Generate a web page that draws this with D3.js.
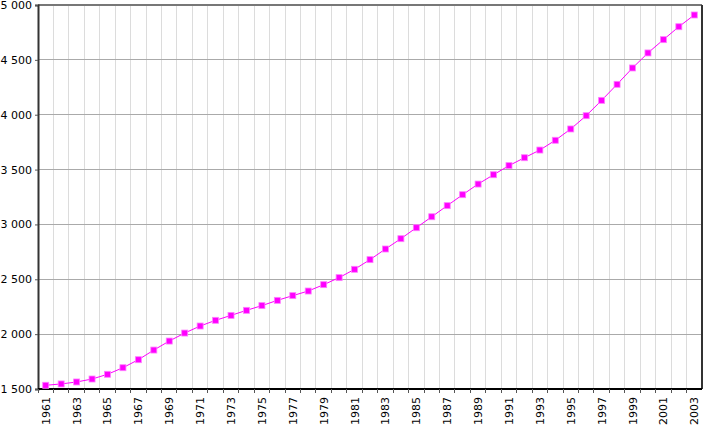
<!DOCTYPE html>
<html>
<head>
<meta charset="utf-8">
<script src="https://cdn.jsdelivr.net/npm/d3@7"></script>
<style>
  body { margin: 0; background: #fff; }
  text { font-family: "DejaVu Sans", Verdana, sans-serif; font-size: 11px; fill: #000; }
</style>
</head>
<body>
<svg id="chart" width="725" height="426"></svg>
<script>
'use strict'

const years = d3.range(1961, 2004)
const population = [
  1534, 1546, 1564, 1591, 1634, 1694, 1767, 1855, 1937, 2010,
  2074, 2126, 2171, 2217, 2260, 2308, 2351, 2393, 2451, 2515,
  2591, 2679, 2776, 2870, 2970, 3070, 3171, 3271, 3368, 3453,
  3536, 3608, 3678, 3767, 3870, 3991, 4131, 4277, 4426, 4563,
  4684, 4802, 4909
]
const yTicks = [1500, 2000, 2500, 3000, 3500, 4000, 4500, 5000]

const margin = { top: 5, right: 23, bottom: 37, left: 38 }
const width = 725 - margin.left - margin.right
const height = 426 - margin.top - margin.bottom

const svg = d3.select('#chart')
const g = svg.append('g').attr('transform', `translate(${margin.left},${margin.top})`)

const x = d3.scaleBand().domain(years).range([0, width])
const y = d3.scaleLinear().domain([1500, 5000]).range([height, 0])
const fmt = v => d3.format(',')(v).replace(',', ' ')

// vertical grid at band edges
g.append('g')
  .selectAll('line')
  .data(years.slice(1))
  .enter()
  .append('line')
  .attr('x1', d => x(d)).attr('x2', d => x(d))
  .attr('y1', 0).attr('y2', height)
  .attr('stroke', '#dcdcdc')
  .attr('shape-rendering', 'crispEdges')

// horizontal grid
g.append('g')
  .selectAll('line')
  .data(yTicks.slice(1, -1))
  .enter()
  .append('line')
  .attr('x1', 0).attr('x2', width)
  .attr('y1', d => y(d)).attr('y2', d => y(d))
  .attr('stroke', '#aaaaaa')
  .attr('shape-rendering', 'crispEdges')

// top and right frame
g.append('line')
  .attr('x1', 0).attr('x2', width).attr('y1', 0).attr('y2', 0)
  .attr('stroke', '#777').attr('stroke-width', 2)
g.append('line')
  .attr('x1', width).attr('x2', width).attr('y1', 0).attr('y2', height)
  .attr('stroke', '#333').attr('stroke-width', 2)

// y axis
const yAxis = g.append('g')
  .call(d3.axisLeft(y).tickValues(yTicks).tickFormat(fmt).tickSize(3).tickPadding(3))
yAxis.select('.domain').attr('stroke', '#333').attr('stroke-width', 2)
yAxis.selectAll('.tick line').attr('stroke', '#555')
yAxis.selectAll('text').style('font-size', '11px')

// x axis: ticks at band edges, labels every second year
const xAxis = g.append('g').attr('transform', `translate(0,${height})`)
xAxis.append('line')
  .attr('x1', 0).attr('x2', width)
  .attr('stroke', '#000').attr('stroke-width', 2)
xAxis.selectAll('line.tick')
  .data(years)
  .enter()
  .append('line')
  .attr('class', 'tick')
  .attr('x1', d => x(d)).attr('x2', d => x(d))
  .attr('y1', 0).attr('y2', 4)
  .attr('stroke', '#555')
  .attr('shape-rendering', 'crispEdges')
xAxis.selectAll('text')
  .data(years.filter((d, i) => i % 2 === 0))
  .enter()
  .append('text')
  .attr('transform', d => `translate(${x(d) + x.bandwidth() / 2 + 4},8) rotate(-90)`)
  .attr('text-anchor', 'end')
  .text(d => d)

// series
const cx = d => x(d) + x.bandwidth() / 2
const data = years.map((yr, i) => ({ yr, v: population[i] }))

g.append('path')
  .datum(data)
  .attr('fill', 'none')
  .attr('stroke', '#ff00ff')
  .attr('stroke-width', 1)
  .attr('d', d3.line().x(d => cx(d.yr)).y(d => y(d.v)))

const s = 6
g.append('g')
  .selectAll('rect')
  .data(data)
  .enter()
  .append('rect')
  .attr('x', d => cx(d.yr) - s / 2)
  .attr('y', d => y(d.v) - s / 2)
  .attr('width', s).attr('height', s)
  .attr('fill', '#ff00ff')
  .attr('stroke', '#ff80ff')
  .attr('stroke-width', 0.8)
</script>
</body>
</html>
